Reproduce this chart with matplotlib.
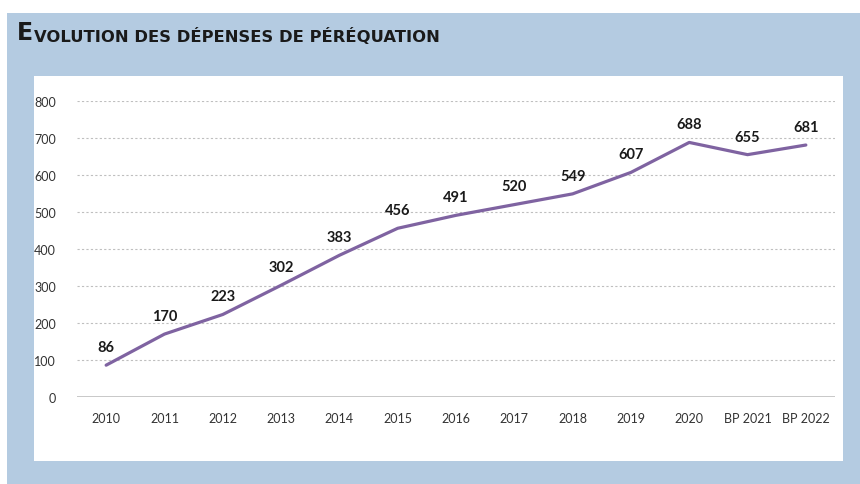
import matplotlib.pyplot as plt
from matplotlib.patches import Rectangle

# données
annees = ['2010', '2011', '2012', '2013', '2014', '2015', '2016', '2017',
          '2018', '2019', '2020', 'BP 2021', 'BP 2022']
depenses = [86, 170, 223, 302, 383, 456, 491, 520, 549, 607, 688, 655, 681]
graduations = [0, 100, 200, 300, 400, 500, 600, 700, 800]

bleu = '#B4CBE1'
violet = '#7F63A1'
gris = '#BFBFBF'

plt.rcParams['font.family'] = ['Lato', 'DejaVu Sans']

fig = plt.figure(figsize=(8.6, 4.85), dpi=100)
fig.patch.set_facecolor('white')

# fond bleu et panneau blanc
fig.patches.append(Rectangle((7 / 860, 0), 1, 1 - 14 / 485, transform=fig.transFigure,
                             facecolor=bleu, edgecolor='none', zorder=0))
fig.patches.append(Rectangle((34 / 860, 1 - 462 / 485), (843 - 34) / 860, (462 - 77) / 485,
                             transform=fig.transFigure, facecolor='white',
                             edgecolor='none', zorder=1))

# titre en petites capitales
t1 = fig.text(17 / 860, 1 - 40 / 485, 'E', fontsize=17, fontweight='bold',
              family='DejaVu Sans', color='#1a1a1a', va='baseline', ha='left')
ann = fig.add_artist(plt.Annotation('VOLUTION DES DÉPENSES DE PÉRÉQUATION', xy=(1, 0),
                                    xycoords=t1, xytext=(0.3, 0), textcoords='offset points',
                                    fontsize=11.8, fontweight='bold', family='DejaVu Sans',
                                    color='#1a1a1a', va='bottom', ha='left'))

ax = fig.add_axes([77 / 860, 1 - 398 / 485, (835 - 77) / 860, (398 - 102) / 485])
ax.set_facecolor('none')
ax.set_zorder(2)

x = range(len(annees))
ax.plot(x, depenses, color=violet, linewidth=2.3, solid_capstyle='round')

for xi, v in zip(x, depenses):
    ax.annotate(str(v), (xi, v), xytext=(0, 8), textcoords='offset points',
                ha='center', va='bottom', fontsize=10.5, fontweight='bold',
                color='#1a1a1a')

ax.set_xlim(-0.5, len(annees) - 0.5)
ax.set_ylim(0, 800)
ax.set_yticks(graduations)
ax.set_xticks(list(x))
ax.set_xticklabels(annees)

for g in graduations[1:]:
    ax.axhline(g, color=gris, linewidth=0.8, linestyle=(0, (2, 2)), zorder=0)
ax.axhline(0, color=gris, linewidth=1.2, zorder=0)

for s in ax.spines.values():
    s.set_visible(False)
ax.tick_params(length=0, labelsize=9, colors='#333333')
ax.tick_params(axis='y', pad=15)
ax.tick_params(axis='x', pad=11)

fig.savefig('out.png', dpi=100)
